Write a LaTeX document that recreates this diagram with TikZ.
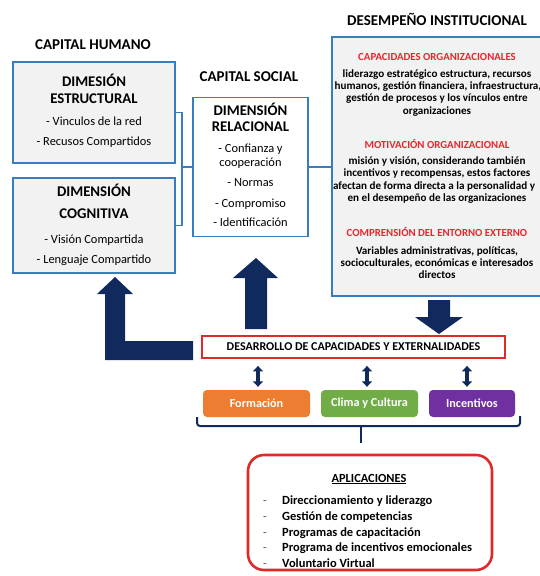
\documentclass[tikz,border=0pt]{standalone}
\usepackage{fontspec}
\setmainfont{Carlito}
\usetikzlibrary{arrows.meta}
\definecolor{navy}{HTML}{102A5E}
\definecolor{bblue}{HTML}{3A7DBE}
\definecolor{rred}{HTML}{E02A2A}
\definecolor{hred}{HTML}{E8262B}
\definecolor{orng}{HTML}{ED7D31}
\definecolor{grn}{HTML}{70AD47}
\definecolor{purp}{HTML}{7030A0}
\definecolor{boxgray}{HTML}{F2F2F2}
\begin{document}
\begin{tikzpicture}[x=1pt,y=-1pt,
  t/.style={inner sep=0pt, text height=0.75em, text depth=0.15em},
  ttl/.style={t, font=\bfseries\fontsize{15}{15}\selectfont},
  hdr/.style={t, font=\bfseries\fontsize{14.8}{14.8}\selectfont},
  itm/.style={t, font=\fontsize{12.4}{12.4}\selectfont},
  rh/.style={t, text=hred, font=\bfseries\fontsize{10.8}{10.8}\selectfont},
  bd/.style={t, font=\bfseries\fontsize{11.1}{11.1}\selectfont},
  lst/.style={t, anchor=west, font=\bfseries\fontsize{12.5}{12.5}\selectfont},
  bluebox/.style={draw=bblue, line width=1.5pt, inner sep=0pt},
  bline/.style={draw=bblue, line width=1.5pt},
  pill/.style={rounded corners=4pt, inner sep=0pt, minimum height=27pt, text=white, font=\bfseries\fontsize{12.2}{12.2}\selectfont},
  dbl/.style={navy, line width=3.4pt, {Triangle[width=10pt,length=5.5pt]}-{Triangle[width=10pt,length=5.5pt]}},
  blk/.style={fill=navy, draw=none}]
\useasboundingbox (0,0) rectangle (540,576);
\fill[white] (0,0) rectangle (540,576);

% titles
\node[ttl] (tH) at (93,46) {CAPITAL HUMANO};
\node[ttl] (tS) at (249,78) {CAPITAL SOCIAL};
\node[ttl] (tD) at (437,22) {DESEMPEÑO INSTITUCIONAL};

% boxes
\node[bluebox, fill=boxgray, minimum width=162pt, minimum height=101pt] (b1) at (94,112.5) {};
\node[bluebox, fill=boxgray, minimum width=162pt, minimum height=95pt] (b2) at (94,225.5) {};
\node[bluebox, fill=white, minimum width=115pt, minimum height=139pt] (b3) at (250.5,167) {};
\node[bluebox, fill=boxgray, minimum width=216pt, minimum height=259pt] (b4) at (440,166.5) {};

% connectors
\coordinate (jn) at (182,167);
\draw[bline] (b1.east) -| (jn) |- (b2.east);
\draw[bline] (jn) -- (b3.west);
\draw[bline] (b3.east) -- (b4.west |- b3.east);

% box 1 text
\node[hdr] (b1a) at (94,83) {DIMESIÓN};
\node[hdr] (b1b) at (94,100) {ESTRUCTURAL};
\node[itm] (b1c) at (94,122) {- Vinculos de la red};
\node[itm] (b1d) at (94,142) {- Recusos Compartidos};
% box 2 text
\node[hdr] (b2a) at (94,193) {DIMENSIÓN};
\node[hdr] (b2b) at (94,215) {COGNITIVA};
\node[itm] (b2c) at (94,240) {- Visión Compartida};
\node[itm] (b2d) at (94,260) {- Lenguaje Compartido};
% box 3 text
\node[hdr] (b3a) at (250.5,112) {DIMENSIÓN};
\node[hdr] (b3b) at (250.5,128) {RELACIONAL};
\node[itm] (b3c) at (250.5,149) {- Confianza y};
\node[itm] (b3d) at (250.5,163) {cooperación};
\node[itm] (b3e) at (250.5,183) {- Normas};
\node[itm] (b3f) at (250.5,204) {- Compromiso};
\node[itm] (b3g) at (250.5,223) {- Identificación};

% box 4 text
\node[rh] (h1) at (437,57) {CAPACIDADES ORGANIZACIONALES};
\node[bd] (h1a) at (437,74) {liderazgo estratégico estructura, recursos};
\node[bd] (h1b) at (438,86) {humanos, gestión financiera, infraestructura,};
\node[bd] (h1c) at (437,98.5) {gestión de procesos y los vínculos entre};
\node[bd] (h1d) at (437,111) {organizaciones};
\node[rh] (h2) at (437,145) {MOTIVACIÓN ORGANIZACIONAL};
\node[bd] (h2a) at (437,161) {misión y visión, considerando también};
\node[bd] (h2b) at (437,173.5) {incentivos y recompensas, estos factores};
\node[bd] (h2c) at (434,186) {afectan de forma directa a la personalidad y};
\node[bd] (h2d) at (437,198) {en el desempeño de las organizaciones};
\node[rh] (h3) at (437,233) {COMPRENSIÓN DEL ENTORNO EXTERNO};
\node[bd] (h3a) at (437,251) {Variables administrativas, políticas,};
\node[bd] (h3b) at (437,263) {socioculturales, económicas e interesados};
\node[bd] (h3c) at (437,275) {directos};

% central box
\node[draw=rred, line width=1.8pt, fill=white, minimum width=303pt, minimum height=22pt, inner sep=0pt,
      font=\bfseries\fontsize{12}{12}\selectfont] (dc) at (353.5,347) {DESARROLLO DE CAPACIDADES Y EXTERNALIDADES};

% block arrows
\fill[blk] (193,341) -- (125,341) -- (125,294) -- (133,294) -- (115,277) -- (97,294) -- (105,294) -- (105,360) -- (193,360) -- cycle;
\fill[blk] (245,329) -- (245,278) -- (233,278) -- (256,258) -- (278,278) -- (267,278) -- (267,329) -- cycle;
\fill[blk] (428,300) -- (450,300) -- (450,317) -- (463,317) -- (439,334) -- (415,317) -- (428,317) -- cycle;

% pills
\node[pill, fill=orng, minimum width=107pt] (p1) at (256.5,403.5) {Formación};
\node[pill, fill=grn, minimum width=97pt] (p2) at (369.5,403.5) {Clima y Cultura};
\node[pill, fill=purp, minimum width=86pt] (p3) at (472,403.5) {Incentivos};

% double arrows
\draw[dbl] ([shift={(1.5,7)}]dc.south -| p1.north) -- ([shift={(1.5,-3)}]p1.north);
\draw[dbl] ([shift={(-2.5,7)}]dc.south -| p2.north) -- ([shift={(-2.5,-3)}]p2.north);
\draw[dbl] ([shift={(-5,7)}]dc.south -| p3.north) -- ([shift={(-5,-3)}]p3.north);

% bracket
\coordinate (brL) at (197,417);
\coordinate (brR) at (520,416);
\coordinate (brM) at (361,426);
\coordinate (brB) at (361,443);
\draw[navy, line width=2pt, rounded corners=3pt] (brL) -- (197,426) -- (520,426) -- (brR);
\draw[navy, line width=2pt] (brM) -- (brB);

% applications box
\node[draw=rred, line width=2.6pt, rounded corners=16pt, fill=white, minimum width=244pt, minimum height=115pt, inner sep=0pt] (ap) at (370,512.5) {};
\node[t, font=\bfseries\fontsize{12.4}{12.4}\selectfont] (apt) at (369,479) {\underline{APLICACIONES}};
\foreach \yy/\txt [count=\i] in {501/Direccionamiento y liderazgo, 517/Gestión de competencias, 533/Programas de capacitación, 548.5/Programa de incentivos emocionales, 564/Voluntario Virtual}{
  \node[t, font=\fontsize{12}{12}\selectfont, text=black!70] (dash\i) at (265,\yy) {-};
  \node[lst] (li\i) at (282,\yy) {\txt};
}
\end{tikzpicture}
\end{document}
